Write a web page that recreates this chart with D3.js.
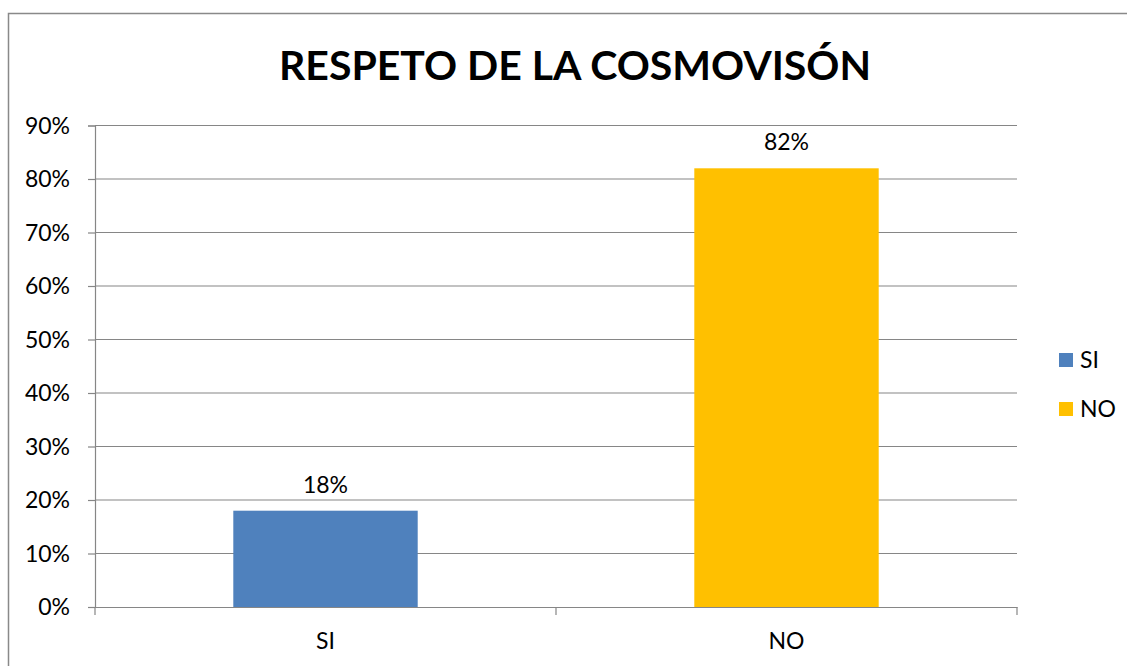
<!DOCTYPE html>
<html><head><meta charset="utf-8">
<script src="https://cdn.jsdelivr.net/npm/d3@7"></script>
<style>body{margin:0;background:#fff}svg{display:block}</style>
</head><body>
<svg id="c" width="1127" height="666"></svg>
<script>
const categories = ["SI", "NO"];
const values = [0.18, 0.82];
const colors = ["#4F81BD", "#FFC000"];
const yTicks = [0, 0.1, 0.2, 0.3, 0.4, 0.5, 0.6, 0.7, 0.8, 0.9];
const title = "RESPETO DE LA COSMOVISÓN";

const svg = d3.select("#c");
const font = "Lato, 'Open Sans', sans-serif";
const grid = "#868686";
const fs = 23;

// chart border
svg.append("rect").attr("x", 8.5).attr("y", 13.5).attr("width", 1130).attr("height", 670)
  .attr("fill", "none").attr("stroke", "#898989").attr("stroke-width", 1.5);

const x = d3.scaleBand().domain(categories).range([95, 1017]).paddingInner(0.6).paddingOuter(0.3);
const y = d3.scaleLinear().domain([0, 0.9]).range([607, 125.5]);
const fmt = d3.format(".0%");

// gridlines
svg.append("g").selectAll("line").data(yTicks.slice(1)).join("line")
  .attr("x1", 95).attr("x2", 1017).attr("y1", d => y(d)).attr("y2", d => y(d))
  .attr("stroke", grid).attr("stroke-width", 1.2);

// y axis
const yAxis = svg.append("g").attr("transform", "translate(95,0)")
  .call(d3.axisLeft(y).tickValues(yTicks).tickFormat(fmt).tickSize(7).tickPadding(18));
yAxis.attr("font-size", null).attr("font-family", null);
yAxis.select(".domain").attr("stroke", grid).attr("stroke-width", 1.2);
yAxis.selectAll(".tick line").attr("stroke", grid).attr("stroke-width", 1.2);
yAxis.selectAll("text").attr("font-family", font).attr("font-size", fs).attr("fill", "#000").attr("dy", "0.33em");

// bars
svg.append("g").selectAll("rect").data(categories).join("rect")
  .attr("x", d => x(d)).attr("width", x.bandwidth())
  .attr("y", (d, i) => y(values[i])).attr("height", (d, i) => y(0) - y(values[i]))
  .attr("fill", (d, i) => colors[i]);

// x axis
const xAxis = svg.append("g").attr("transform", "translate(0,607)")
  .call(d3.axisBottom(x).tickSize(0).tickPadding(26));
xAxis.attr("font-size", null).attr("font-family", null);
xAxis.select(".domain").attr("stroke", grid).attr("stroke-width", 1.2);
xAxis.selectAll("text").attr("font-family", font).attr("font-size", fs).attr("fill", "#000");
const step = x.step();
const bounds = [95, 95 + step, 95 + 2 * step];
svg.append("g").selectAll("line").data(bounds).join("line")
  .attr("x1", d => d).attr("x2", d => d).attr("y1", 607).attr("y2", 615)
  .attr("stroke", grid).attr("stroke-width", 1.2);

// data labels
svg.append("g").selectAll("text").data(categories).join("text")
  .attr("x", d => x(d) + x.bandwidth() / 2).attr("y", (d, i) => y(values[i]) - 18)
  .attr("text-anchor", "middle").attr("font-family", font).attr("font-size", fs)
  .text((d, i) => fmt(values[i]));

// title
svg.append("text").attr("x", 575).attr("y", 80).attr("text-anchor", "middle")
  .attr("font-family", font).attr("font-weight", "bold").attr("font-size", 41)
  .text(title);

// legend
const lg = svg.append("g").selectAll("g").data(categories).join("g")
  .attr("transform", (d, i) => `translate(1059,${353 + i * 49})`);
lg.append("rect").attr("width", 14).attr("height", 14).attr("fill", (d, i) => colors[i]);
lg.append("text").attr("x", 21).attr("y", 15).attr("font-family", font).attr("font-size", fs).text(d => d);
</script>
</body></html>
